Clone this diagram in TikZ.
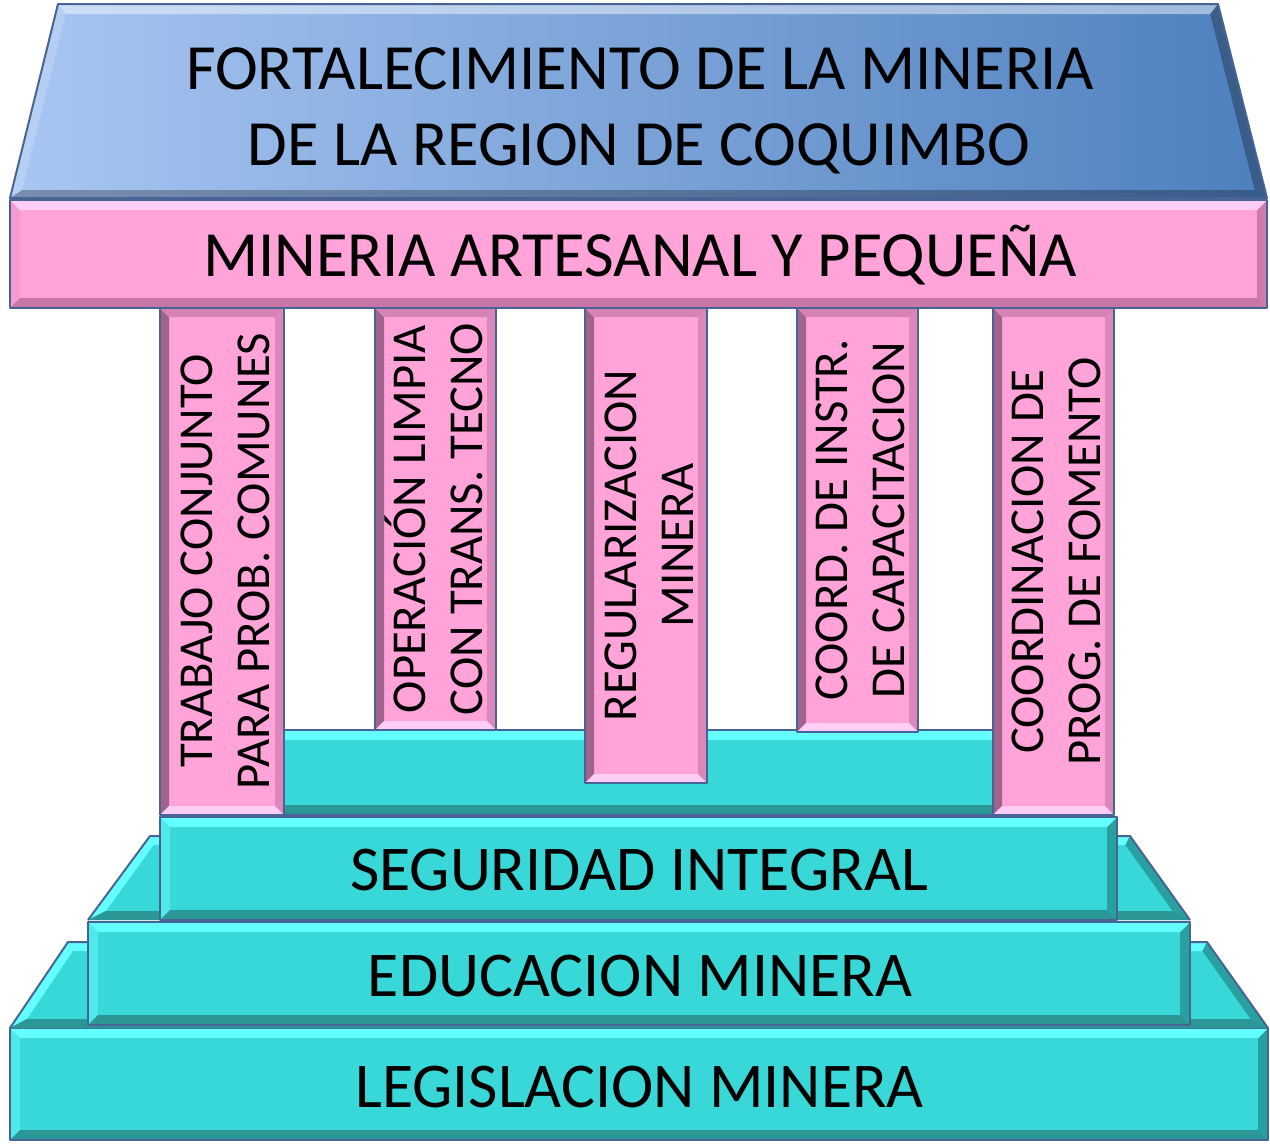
\documentclass[tikz,border=0pt]{standalone}
\usepackage{fontspec}
\setmainfont{Carlito}
\definecolor{pinkc}{RGB}{255,163,216}
\definecolor{tealc}{RGB}{56,216,216}
\definecolor{edgec}{RGB}{72,100,150}
\definecolor{roofL}{RGB}{168,198,242}
\definecolor{roofR}{RGB}{78,128,190}
\tikzset{
  edge/.style={draw=edgec, line width=2pt, line join=round},
  tealbase/.style={fill=tealc},
  tealtop/.style={fill={rgb,255:red,100;green,255;blue,255}},
  tealbot/.style={fill={rgb,255:red,42;green,150;blue,150}},
  tealleft/.style={fill={rgb,255:red,80;green,232;blue,232}},
  tealright/.style={fill={rgb,255:red,40;green,160;blue,160}},
  pinkbase/.style={fill=pinkc},
  pinktop/.style={fill={rgb,255:red,255;green,205;blue,245}},
  pinkbot/.style={fill={rgb,255:red,200;green,118;blue,168}},
  pinkleft/.style={fill={rgb,255:red,245;green,155;blue,205}},
  pinkright/.style={fill={rgb,255:red,205;green,122;blue,172}},
  pilbase/.style={fill=pinkc},
  piltop/.style={fill={rgb,255:red,215;green,130;blue,180}},
  pilbot/.style={fill={rgb,255:red,255;green,205;blue,245}},
  pilleft/.style={fill={rgb,255:red,160;green,100;blue,140}},
  pilright/.style={fill={rgb,255:red,220;green,135;blue,185}},
  hi/.style={fill=white, fill opacity=0.45},
  hisoft/.style={fill=white, fill opacity=0.18},
  lo/.style={fill=black, fill opacity=0.28},
  big/.style={font=\fontsize{64.5}{77}\selectfont, anchor=base, inner sep=0pt},
  coltxt/.style={font=\fontsize{48.7}{58}\selectfont, anchor=base, rotate=90, inner sep=0pt},
  stairtxt/.style={font=\fontsize{63.8}{76}\selectfont, anchor=base, inner sep=0pt},
}
% bevelled rectangle: x1 y1 x2 y2 style-prefix bevel
\newcommand\bevrect[6]{%
  \fill[#5base] (#1,#2) rectangle (#3,#4);
  \fill[#5left] (#1,#2) -- (#1+#6,#2+#6) -- (#1+#6,#4-#6) -- (#1,#4) -- cycle;
  \fill[#5right] (#3,#2) -- (#3-#6,#2+#6) -- (#3-#6,#4-#6) -- (#3,#4) -- cycle;
  \fill[#5top] (#1,#2) -- (#3,#2) -- (#3-#6,#2+#6) -- (#1+#6,#2+#6) -- cycle;
  \fill[#5bot] (#1,#4) -- (#3,#4) -- (#3-#6,#4-#6) -- (#1+#6,#4-#6) -- cycle;
  \draw[edge] (#1,#2) rectangle (#3,#4);
}
\begin{document}
\begin{tikzpicture}[x=1pt,y=-1pt]
\useasboundingbox (0,0) rectangle (1270,1144);

% ---- base: legislacion
\bevrect{10}{1028}{1268}{1140}{teal}{10}
% ---- trapezoid behind educacion
\fill[tealbase] (10,1028) -- (68,942) -- (1207,942) -- (1268,1028) -- cycle;
\fill[tealtop] (68,942) -- (1207,942) -- (1202.4,951) -- (72.8,951) -- cycle;
\fill[tealtop] (10,1028) -- (68,942) -- (72.8,951) -- (27,1019) -- cycle;
\fill[tealright] (1207,942) -- (1268,1028) -- (1250.6,1019) -- (1202.4,951) -- cycle;
\fill[tealbot] (10,1028) -- (1268,1028) -- (1250.6,1019) -- (27,1019) -- cycle;
\draw[edge] (10,1028) -- (68,942) -- (1207,942) -- (1268,1028);
% ---- educacion box
\bevrect{88}{922}{1190}{1025}{teal}{10}
% ---- trapezoid behind seguridad
\fill[tealbase] (88,920) -- (150,836) -- (1130,836) -- (1190,920) -- cycle;
\fill[tealtop] (150,836) -- (1130,836) -- (1125.4,845) -- (153.7,845) -- cycle;
\fill[tealtop] (88,920) -- (150,836) -- (153.7,845) -- (105.8,911) -- cycle;
\fill[tealright] (1130,836) -- (1190,920) -- (1172.6,911) -- (1125.4,845) -- cycle;
\fill[tealbot] (88,920) -- (1190,920) -- (1172.6,911) -- (105.8,911) -- cycle;
\draw[edge] (88,920) -- (150,836) -- (1130,836) -- (1190,920);
% ---- seguridad box
\bevrect{160}{817}{1117}{920}{teal}{10}
% ---- middle teal bar behind the pillars
\bevrect{270}{730}{1005}{815}{teal}{10}
% ---- pillars
\bevrect{160}{308}{284}{815}{pil}{9}
\bevrect{375}{308}{496}{730}{pil}{9}
\bevrect{585}{308}{707}{783}{pil}{9}
\bevrect{797}{308}{918}{732}{pil}{9}
\bevrect{993}{308}{1114}{815}{pil}{9}
% ---- beam
\bevrect{10}{200}{1267}{308}{pink}{10}
% ---- roof
\shade[left color=roofL, right color=roofR] (10,198) -- (58,4) -- (1218,4) -- (1267,198) -- cycle;
\fill[hi] (58,4) -- (1218,4) -- (1210.2,14) -- (65.8,14) -- cycle;
\fill[hisoft] (10,198) -- (58,4) -- (65.8,14) -- (22.3,190) -- cycle;
\fill[lo] (1218,4) -- (1267,198) -- (1254.7,190) -- (1210.2,14) -- cycle;
\fill[lo] (10,198) -- (1267,198) -- (1254.7,190) -- (22.3,190) -- cycle;
\draw[edge] (10,198) -- (58,4) -- (1218,4) -- (1267,198) -- cycle;

% ---- texts
\node[big] (roof1) at (640,89) {FORTALECIMIENTO DE LA MINERIA};
\node[big] (roof2) at (639,165) {DE LA REGION DE COQUIMBO};
\node[big] (beam) at (640,276) {MINERIA ARTESANAL Y PEQUEÑA};

\node[coltxt] (p1a) at (212,561) {TRABAJO CONJUNTO};
\node[coltxt] (p1b) at (269,561) {PARA PROB. COMUNES};
\node[coltxt] (p2a) at (425.5,519) {OPERACIÓN LIMPIA};
\node[coltxt] (p2b) at (482.5,519) {CON TRANS. TECNO};
\node[coltxt] (p3a) at (636,545.5) {REGULARIZACION};
\node[coltxt] (p3b) at (693,545.5) {MINERA};
\node[coltxt] (p4a) at (847.5,520) {COORD. DE INSTR.};
\node[coltxt] (p4b) at (904.5,520) {DE CAPACITACION};
\node[coltxt] (p5a) at (1043.5,561.5) {COORDINACION DE};
\node[coltxt] (p5b) at (1100.5,561.5) {PROG. DE FOMENTO};

\node[stairtxt] (seg) at (639,890) {SEGURIDAD INTEGRAL};
\node[stairtxt] (edu) at (640,996) {EDUCACION MINERA};
\node[stairtxt] (leg) at (639.5,1107) {LEGISLACION MINERA};
\end{tikzpicture}
\end{document}
